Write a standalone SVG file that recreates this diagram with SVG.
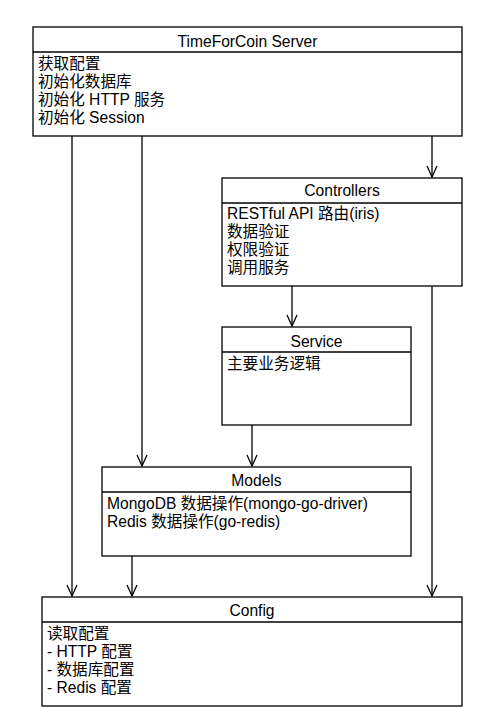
<svg xmlns="http://www.w3.org/2000/svg" width="479" height="723" viewBox="0 0 479 723">
<style>
.box{fill:#fff;stroke:#000;stroke-width:1.3}
.sep{stroke:#000;stroke-width:1.3}
text{font-family:"Liberation Sans","Noto Sans CJK SC",sans-serif;font-size:15.6px;fill:#000}
.t{text-anchor:middle}
.c line{stroke:#000;stroke-width:1.3}
.c path{fill:none;stroke:#000;stroke-width:1.3}
</style>
<rect width="479" height="723" fill="#fff"/>
<g id="server">
<rect class="box" x="33" y="27" width="429" height="109"/>
<line class="sep" x1="33" y1="52" x2="462" y2="52"/>
<text class="t" x="247.5" y="46.5">TimeForCoin Server</text>
<text x="38" y="69">获取配置</text>
<text x="38" y="87">初始化数据库</text>
<text x="38" y="105">初始化 HTTP 服务</text>
<text x="38" y="123">初始化 Session</text>
</g>
<g id="controllers">
<rect class="box" x="222" y="178" width="240" height="108"/>
<line class="sep" x1="222" y1="203" x2="462" y2="203"/>
<text class="t" x="342" y="196">Controllers</text>
<text x="227" y="219">RESTful API 路由(iris)</text>
<text x="227" y="237">数据验证</text>
<text x="227" y="255">权限验证</text>
<text x="227" y="273">调用服务</text>
</g>
<g id="service">
<rect class="box" x="222" y="327" width="189" height="98"/>
<line class="sep" x1="222" y1="352" x2="411" y2="352"/>
<text class="t" x="316.5" y="346.5">Service</text>
<text x="227" y="369">主要业务逻辑</text>
</g>
<g id="models">
<rect class="box" x="102" y="467" width="309" height="89"/>
<line class="sep" x1="102" y1="492" x2="411" y2="492"/>
<text class="t" x="256.5" y="486">Models</text>
<text x="107" y="509">MongoDB 数据操作(mongo-go-driver)</text>
<text x="107" y="527">Redis 数据操作(go-redis)</text>
</g>
<g id="config">
<rect class="box" x="42" y="597" width="420" height="109"/>
<line class="sep" x1="42" y1="622" x2="462" y2="622"/>
<text class="t" x="252" y="616">Config</text>
<text x="47" y="639">读取配置</text>
<text x="47" y="657"> - HTTP 配置</text>
<text x="47" y="675"> - 数据库配置</text>
<text x="47" y="693"> - Redis 配置</text>
</g>
<g id="connectors" class="c">
<line x1="72" y1="136" x2="72" y2="596"/>
<path d="M67,585 L72,596 L77,585"/>
<line x1="142" y1="136" x2="142" y2="466"/>
<path d="M137,455 L142,466 L147,455"/>
<line x1="432" y1="136" x2="432" y2="177"/>
<path d="M427,166 L432,177 L437,166"/>
<line x1="292" y1="286" x2="292" y2="326"/>
<path d="M287,315 L292,326 L297,315"/>
<line x1="432" y1="286" x2="432" y2="596"/>
<path d="M427,585 L432,596 L437,585"/>
<line x1="252" y1="425" x2="252" y2="466"/>
<path d="M247,455 L252,466 L257,455"/>
<line x1="132" y1="556" x2="132" y2="596"/>
<path d="M127,585 L132,596 L137,585"/>
</g>
</svg>
